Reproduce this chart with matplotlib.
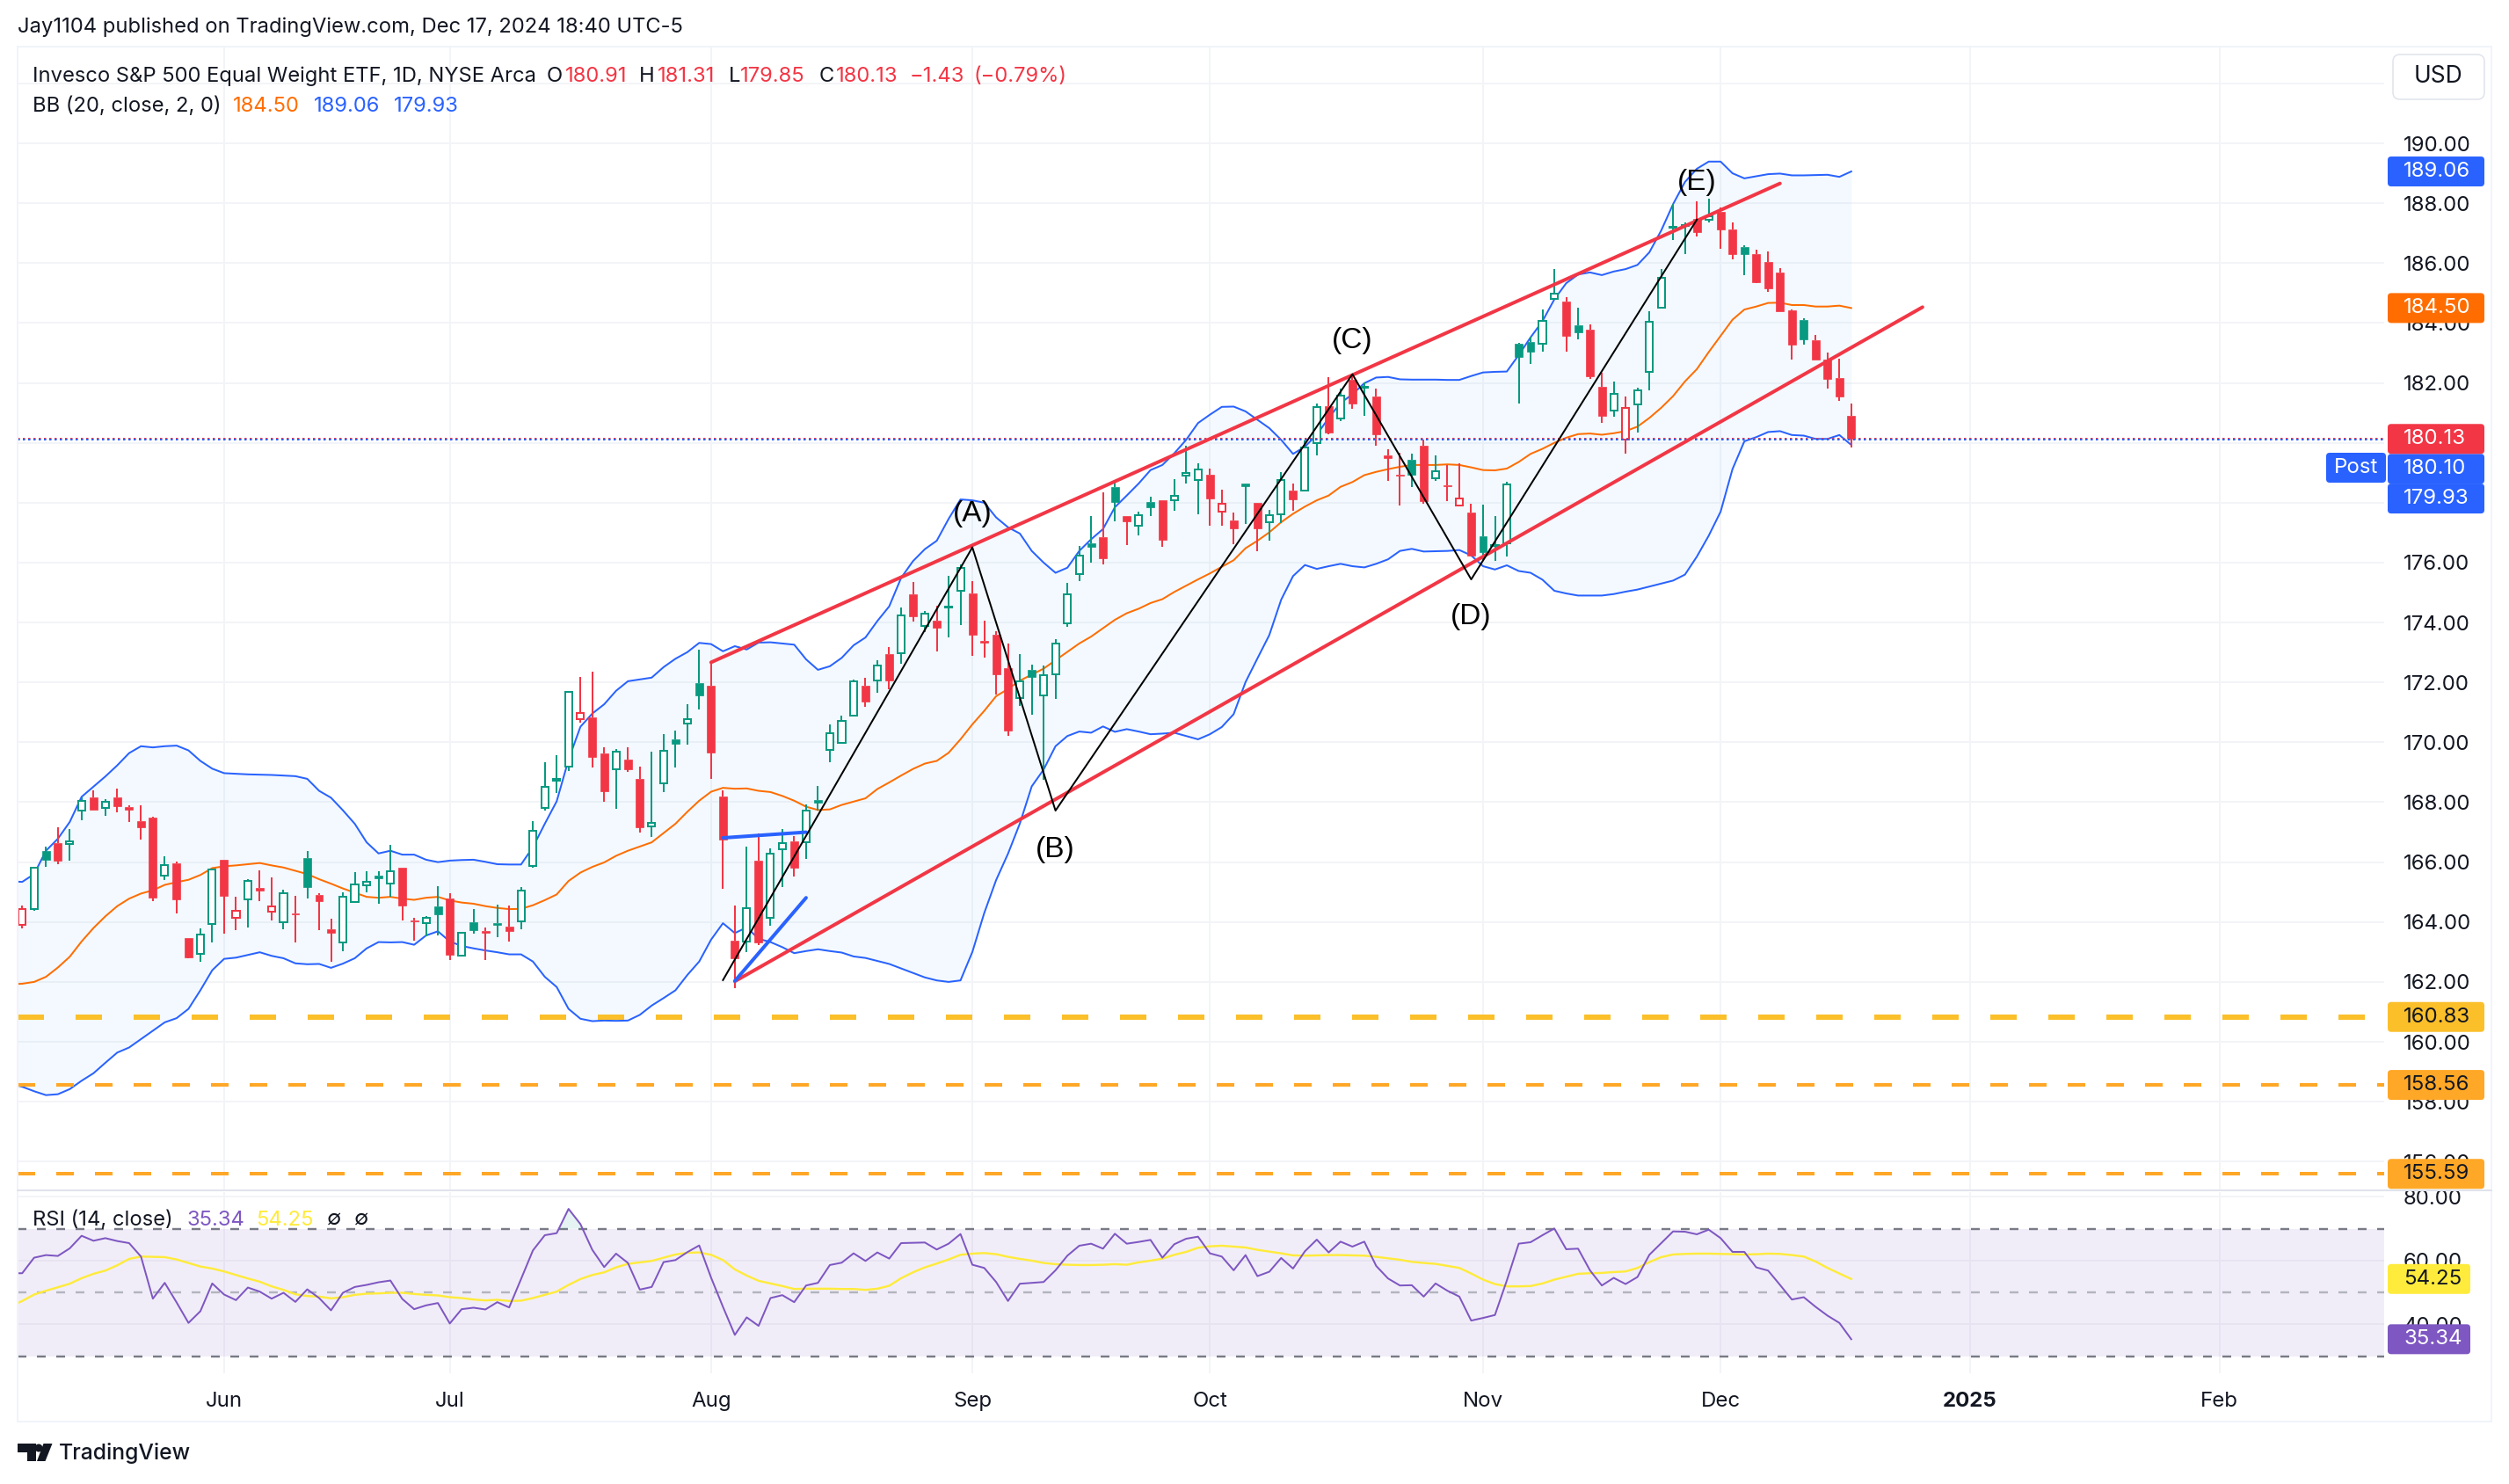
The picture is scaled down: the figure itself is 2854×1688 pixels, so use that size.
#!/usr/bin/env python3

import matplotlib
matplotlib.use('agg')
import matplotlib.pyplot as plt
import matplotlib.patches as mpatches
from matplotlib.transforms import IdentityTransform
import numpy as np

plt.rcParams['font.family'] = ['Inter', 'DejaVu Sans']
plt.rcParams['lines.scale_dashes'] = False

W, H = 2854, 1688
PX = 0.72  # one pixel in points at dpi 100

UP = '#089981'
DOWN = '#F23645'
BLUE = '#2962FF'
ORANGE = '#FF6D00'
PURPLE = '#7E57C2'
YELLOW = '#FFEB3B'
GRID = '#F3F4F7'
TEXT = '#131722'

# bars are numbered by trading day, 3 Jun 2024 is 0
first_bar = -17
opens = [163.91, 164.42, 166.38, 166.64, 166.60, 167.71, 168.16, 167.82, 168.17, 167.83,
  167.36, 167.49, 165.54, 165.96, 163.45, 162.93, 163.93, 166.09, 164.14, 164.75,
  165.15, 164.34, 163.99, 164.29, 166.15, 164.89, 163.77, 163.32, 164.66, 165.23,
  165.55, 165.27, 165.80, 164.05, 163.96, 164.51, 164.80, 162.89, 164.00, 163.69,
  163.97, 163.86, 164.03, 165.86, 167.80, 168.72, 169.19, 170.78, 170.84, 169.64,
  169.10, 169.41, 168.79, 167.18, 168.62, 170.11, 170.63, 171.99, 171.88, 168.20,
  163.38, 163.34, 166.06, 164.13, 166.42, 166.68, 166.66, 168.08, 169.74, 169.99,
  170.89, 171.89, 172.06, 172.96, 172.97, 174.93, 173.89, 174.05, 174.49, 175.05,
  174.96, 173.40, 173.58, 172.49, 171.47, 172.42, 171.56, 172.27, 173.96, 175.62,
  176.64, 176.85, 178.51, 177.54, 177.23, 178.02, 178.08, 178.09, 178.91, 178.76,
  178.93, 177.71, 177.42, 178.63, 177.99, 177.35, 177.60, 178.42, 178.42, 179.99,
  181.22, 180.81, 182.10, 181.84, 181.56, 179.57, 178.94, 179.42, 179.90, 178.82,
  178.57, 177.91, 177.68, 176.88, 176.56, 176.64, 183.31, 183.36, 183.30, 184.81,
  184.72, 183.92, 183.78, 181.88, 181.09, 180.11, 181.29, 182.38, 184.50, 187.18,
  187.24, 187.49, 187.46, 187.70, 187.13, 186.55, 186.31, 186.05, 185.69, 184.43,
  184.11, 183.43, 182.79, 182.17, 180.91]
highs = [164.56, 165.84, 166.53, 167.15, 167.09, 168.16, 168.41, 168.11, 168.46, 167.89,
  167.91, 167.51, 166.20, 166.01, 163.46, 163.78, 165.79, 166.09, 164.83, 165.43,
  165.73, 165.49, 165.09, 164.86, 166.38, 164.97, 164.10, 164.99, 165.66, 165.69,
  165.69, 166.57, 165.80, 164.14, 164.19, 165.19, 164.95, 163.68, 164.43, 163.83,
  164.59, 164.56, 165.18, 167.36, 169.35, 169.58, 171.71, 172.17, 172.37, 169.84,
  169.79, 169.83, 169.20, 169.68, 170.26, 170.38, 171.28, 173.09, 172.68, 168.41,
  164.56, 166.53, 166.97, 166.45, 167.11, 166.86, 167.92, 168.53, 170.59, 170.89,
  172.09, 172.14, 172.74, 173.17, 174.50, 175.35, 174.37, 174.57, 175.55, 175.94,
  175.38, 174.06, 173.72, 173.29, 172.94, 172.59, 172.57, 173.44, 175.31, 176.56,
  177.55, 178.36, 178.77, 177.54, 177.69, 178.19, 178.08, 178.78, 179.89, 179.31,
  179.14, 178.44, 177.66, 178.63, 177.99, 177.76, 179.02, 178.64, 180.08, 181.31,
  182.19, 181.82, 182.29, 182.01, 181.81, 179.78, 179.68, 179.63, 180.12, 179.57,
  179.26, 179.31, 177.96, 177.93, 177.54, 178.69, 183.35, 183.54, 184.46, 185.79,
  184.87, 184.52, 183.96, 182.33, 182.05, 181.55, 181.85, 184.40, 185.79, 187.98,
  187.37, 188.07, 188.14, 187.85, 187.37, 186.61, 186.46, 186.40, 185.84, 184.44,
  184.17, 183.61, 183.00, 182.82, 181.31]
lows = [163.78, 164.36, 165.84, 165.93, 166.05, 167.39, 167.75, 167.55, 167.66, 167.34,
  166.75, 164.70, 165.41, 164.30, 162.78, 162.68, 163.33, 163.62, 163.72, 163.82,
  164.70, 164.05, 163.77, 163.33, 164.79, 163.72, 162.66, 163.02, 164.64, 164.98,
  164.61, 164.84, 164.06, 163.39, 163.52, 163.55, 162.73, 162.86, 163.62, 162.73,
  163.48, 163.34, 163.77, 165.82, 167.73, 168.32, 169.05, 170.65, 169.16, 168.01,
  167.79, 169.00, 166.99, 166.84, 168.33, 169.16, 169.92, 171.09, 168.78, 165.10,
  161.80, 162.99, 163.24, 163.88, 165.17, 165.53, 166.10, 167.71, 169.33, 169.96,
  170.87, 171.17, 171.64, 171.78, 172.63, 174.03, 173.69, 173.04, 173.49, 173.90,
  172.88, 172.83, 171.59, 170.21, 171.20, 170.91, 168.75, 171.44, 173.87, 175.37,
  176.00, 175.93, 177.37, 176.60, 176.90, 177.54, 176.54, 177.74, 178.64, 177.60,
  177.23, 177.23, 176.62, 177.29, 176.39, 176.73, 177.31, 177.74, 178.39, 179.57,
  180.27, 180.72, 181.13, 180.89, 179.91, 178.73, 177.91, 178.53, 177.96, 178.74,
  178.04, 177.89, 176.22, 176.05, 176.05, 176.20, 181.31, 182.63, 183.03, 184.79,
  183.04, 183.45, 182.13, 180.66, 180.87, 179.63, 180.34, 181.75, 184.48, 186.77,
  186.30, 186.89, 187.36, 186.48, 186.12, 185.59, 185.32, 185.04, 184.39, 182.78,
  183.28, 182.78, 181.81, 181.40, 179.85]
closes = [164.44, 165.81, 166.07, 166.05, 166.70, 168.05, 167.75, 168.01, 167.88, 167.75,
  167.17, 164.82, 165.90, 164.77, 162.82, 163.59, 165.75, 164.88, 164.37, 165.37,
  165.06, 164.51, 164.96, 164.25, 165.17, 164.70, 163.64, 164.84, 165.26, 165.33,
  165.46, 165.70, 164.55, 164.01, 164.14, 164.26, 162.90, 163.64, 163.73, 163.64,
  163.91, 163.70, 165.05, 167.05, 168.52, 168.77, 171.69, 170.98, 169.52, 168.37,
  169.69, 169.10, 167.15, 167.30, 169.72, 169.96, 170.78, 171.57, 169.66, 166.75,
  162.79, 164.46, 163.33, 166.28, 166.63, 165.82, 167.72, 167.99, 170.31, 170.72,
  172.04, 171.35, 172.55, 172.06, 174.24, 174.22, 174.30, 173.84, 174.53, 175.83,
  173.58, 173.32, 172.26, 170.40, 172.03, 172.17, 172.23, 173.31, 174.95, 176.24,
  176.53, 176.15, 178.03, 177.39, 177.59, 177.86, 176.77, 178.24, 178.99, 179.12,
  178.15, 177.98, 177.13, 178.55, 177.13, 177.58, 178.77, 178.10, 179.85, 181.19,
  180.35, 181.59, 181.31, 181.87, 180.27, 179.48, 178.90, 178.92, 178.06, 179.05,
  178.54, 178.14, 176.24, 176.36, 176.60, 178.62, 182.87, 183.04, 184.07, 184.98,
  183.57, 183.69, 182.21, 180.90, 181.63, 181.16, 181.74, 184.04, 185.51, 187.22,
  187.28, 187.03, 187.57, 187.12, 186.30, 186.31, 185.35, 185.15, 184.40, 183.28,
  183.45, 182.78, 182.13, 181.54, 180.13]
bar_colors = ("RGGRGGRGRR" "RRGRRGGRRG" "RRGRGRRGGG" "GGRRGGRGGR"
  "GRGGGGGRRR" "GRRGGGGGRR" "RGRGGRGGGG" "GRGRGRGRGG"
  "RRRRGGGGGG" "GRGRGGRGGG" "RRRGRGGRGG" "RGRGRRRGRG"
  "RRRGGGGGGG" "RGRRGRGGGG" "GRGRRGRRRR" "GRRRR")

# the indicator series start one bar earlier, just left of the pane edge
bb_upper = [165.36, 165.34, 165.60, 166.38, 166.78, 167.34, 168.18, 168.52, 168.86, 169.23, 169.64,
  169.87, 169.83, 169.87, 169.89, 169.73, 169.38, 169.12, 168.97, 168.95, 168.93,
  168.92, 168.91, 168.89, 168.87, 168.78, 168.38, 168.15, 167.73, 167.28, 166.66,
  166.29, 166.38, 166.25, 166.25, 166.08, 166.00, 166.05, 166.07, 166.08, 166.01,
  165.93, 165.92, 165.92, 166.50, 167.28, 168.03, 169.42, 170.52, 170.96, 171.27,
  171.72, 172.04, 172.10, 172.16, 172.51, 172.79, 173.01, 173.32, 173.28, 173.04,
  173.21, 173.10, 173.33, 173.34, 173.30, 173.26, 172.77, 172.42, 172.54, 172.82,
  173.24, 173.50, 174.05, 174.54, 175.49, 176.05, 176.45, 176.73, 177.46, 178.11,
  178.08, 178.00, 177.51, 177.18, 176.97, 176.39, 176.00, 175.66, 175.83, 176.39,
  176.78, 177.12, 177.85, 178.24, 178.64, 179.09, 179.26, 179.65, 180.10, 180.66,
  180.94, 181.20, 181.21, 181.05, 180.77, 180.49, 180.10, 179.63, 179.87, 180.27,
  180.83, 181.33, 181.62, 181.99, 182.18, 182.20, 182.12, 182.11, 182.11, 182.11,
  182.10, 182.10, 182.23, 182.35, 182.37, 182.38, 182.93, 183.52, 184.06, 184.79,
  185.33, 185.62, 185.69, 185.60, 185.72, 185.80, 185.94, 186.36, 187.09, 187.97,
  188.71, 189.15, 189.39, 189.39, 189.00, 188.83, 188.90, 188.97, 188.99, 188.93,
  188.93, 188.94, 188.95, 188.88, 189.06]
bb_basis = [161.92, 161.94, 162.00, 162.17, 162.48, 162.84, 163.35, 163.80, 164.19, 164.53, 164.78,
  164.95, 165.06, 165.24, 165.33, 165.41, 165.57, 165.80, 165.86, 165.89, 165.93,
  165.97, 165.89, 165.82, 165.71, 165.60, 165.43, 165.28, 165.12, 164.98, 164.84,
  164.81, 164.84, 164.78, 164.74, 164.81, 164.84, 164.72, 164.65, 164.61, 164.53,
  164.47, 164.43, 164.44, 164.56, 164.73, 164.92, 165.37, 165.65, 165.84, 165.99,
  166.21, 166.38, 166.52, 166.66, 166.97, 167.28, 167.68, 168.05, 168.35, 168.48,
  168.45, 168.46, 168.38, 168.34, 168.21, 168.05, 167.85, 167.74, 167.76, 167.91,
  168.02, 168.13, 168.44, 168.66, 168.89, 169.11, 169.29, 169.38, 169.65, 170.10,
  170.60, 171.05, 171.54, 171.78, 172.06, 172.26, 172.46, 172.74, 173.02, 173.30,
  173.53, 173.81, 174.09, 174.31, 174.46, 174.65, 174.78, 175.02, 175.23, 175.44,
  175.64, 175.86, 176.08, 176.48, 176.73, 177.01, 177.35, 177.63, 177.87, 178.08,
  178.24, 178.53, 178.69, 178.92, 179.03, 179.12, 179.20, 179.26, 179.26, 179.26,
  179.28, 179.26, 179.18, 179.09, 179.08, 179.14, 179.36, 179.63, 179.80, 180.00,
  180.17, 180.29, 180.31, 180.27, 180.32, 180.39, 180.54, 180.83, 181.17, 181.56,
  182.05, 182.46, 183.03, 183.57, 184.11, 184.45, 184.55, 184.67, 184.68, 184.60,
  184.60, 184.55, 184.55, 184.58, 184.50]
bb_lower = [158.60, 158.50, 158.35, 158.22, 158.25, 158.42, 158.70, 158.95, 159.30, 159.64, 159.81,
  160.09, 160.37, 160.65, 160.79, 161.10, 161.72, 162.39, 162.77, 162.81, 162.90,
  162.99, 162.87, 162.79, 162.62, 162.59, 162.60, 162.47, 162.61, 162.79, 163.12,
  163.33, 163.32, 163.33, 163.24, 163.55, 163.69, 163.35, 163.20, 163.12, 163.05,
  162.99, 162.92, 162.92, 162.68, 162.17, 161.83, 161.10, 160.77, 160.69, 160.71,
  160.70, 160.71, 160.90, 161.21, 161.46, 161.72, 162.23, 162.68, 163.41, 163.96,
  163.63, 163.82, 163.44, 163.33, 163.16, 162.96, 163.03, 163.09, 163.03, 162.98,
  162.85, 162.80, 162.70, 162.60, 162.45, 162.30, 162.15, 162.05, 162.00, 162.05,
  163.00, 164.30, 165.40, 166.28, 167.29, 168.53, 169.09, 169.87, 170.21, 170.36,
  170.32, 170.53, 170.35, 170.44, 170.36, 170.27, 170.29, 170.32, 170.21, 170.10,
  170.27, 170.51, 170.94, 172.01, 172.80, 173.58, 174.76, 175.55, 175.92, 175.79,
  175.88, 175.96, 175.88, 175.84, 175.96, 176.11, 176.39, 176.46, 176.37, 176.38,
  176.39, 176.42, 176.24, 175.88, 175.77, 175.91, 175.72, 175.66, 175.43, 175.06,
  174.97, 174.90, 174.90, 174.90, 174.95, 175.03, 175.10, 175.20, 175.30, 175.40,
  175.60, 176.20, 176.90, 177.70, 179.12, 180.05, 180.19, 180.36, 180.39, 180.26,
  180.24, 180.13, 180.13, 180.26, 179.93]
rsi = [56.05, 56.05, 60.92, 61.74, 61.47, 63.85, 67.80, 66.24, 67.06, 66.15, 65.50,
  61.28, 48.07, 53.03, 46.88, 40.46, 44.13, 52.84, 49.36, 47.61, 51.56,
  50.28, 48.07, 49.91, 47.06, 51.00, 48.26, 44.40, 49.91, 51.74, 52.39,
  53.21, 53.76, 47.98, 44.77, 45.96, 46.70, 40.28, 44.77, 45.23, 44.68,
  46.97, 45.32, 54.22, 63.21, 67.98, 68.62, 76.24, 71.47, 63.39, 57.98,
  62.20, 59.27, 50.92, 51.74, 59.54, 60.18, 62.66, 64.77, 54.68, 45.50,
  36.70, 42.20, 39.54, 48.26, 49.17, 46.97, 52.20, 53.03, 58.62, 59.36,
  62.29, 59.91, 62.57, 60.64, 65.50, 65.60, 65.69, 63.49, 65.32, 68.35,
  58.71, 57.71, 53.30, 47.34, 52.75, 53.03, 53.30, 56.97, 61.56, 64.68,
  65.32, 63.76, 68.44, 65.32, 65.87, 66.51, 60.92, 65.14, 66.88, 67.52,
  62.29, 61.28, 56.97, 61.74, 55.14, 56.51, 60.83, 57.52, 62.94, 66.60,
  62.57, 65.96, 64.40, 65.96, 58.35, 54.40, 52.20, 52.29, 48.72, 52.84,
  50.55, 48.72, 41.19, 42.02, 42.94, 53.76, 65.32, 65.78, 67.98, 70.09,
  63.58, 63.76, 56.97, 52.20, 54.59, 52.66, 54.86, 61.83, 65.50, 69.17,
  69.08, 68.26, 69.72, 67.06, 62.75, 62.75, 57.89, 56.88, 52.39, 47.80,
  48.53, 45.50, 42.75, 40.46, 35.34]
rsi_ma = [45.60, 47.34, 49.36, 50.55, 51.65, 52.75, 54.49, 55.87, 56.88, 58.53, 60.55,
  61.28, 61.19, 61.10, 60.37, 59.27, 58.16, 57.52, 56.60, 55.50, 54.40,
  53.39, 51.93, 50.83, 49.45, 48.90, 48.72, 48.17, 48.53, 49.27, 49.63,
  49.72, 49.91, 49.91, 49.54, 49.27, 49.08, 48.53, 48.26, 47.80, 47.52,
  47.71, 47.34, 47.43, 48.26, 49.27, 50.28, 52.39, 54.22, 55.50, 56.33,
  57.89, 58.99, 59.45, 59.91, 60.92, 61.93, 62.48, 62.57, 61.83, 60.18,
  57.25, 55.32, 53.67, 52.84, 52.02, 51.10, 51.19, 51.19, 51.19, 51.10,
  51.10, 50.83, 51.19, 52.11, 54.49, 56.33, 57.89, 59.08, 60.37, 61.83,
  62.20, 62.38, 62.02, 61.19, 60.55, 60.00, 59.27, 58.90, 58.71, 58.62,
  58.62, 58.71, 58.90, 58.71, 59.45, 60.00, 60.64, 61.83, 62.75, 64.04,
  64.49, 64.68, 64.40, 64.13, 63.39, 62.84, 62.29, 61.65, 61.56, 61.65,
  61.74, 61.74, 61.65, 61.56, 61.19, 60.73, 60.27, 59.63, 59.27, 58.99,
  58.35, 57.71, 55.96, 54.04, 52.66, 51.93, 51.93, 52.02, 52.84, 54.04,
  54.95, 55.87, 56.05, 56.15, 56.42, 56.60, 57.71, 59.54, 61.10, 61.93,
  62.11, 62.20, 62.20, 62.11, 62.02, 61.93, 62.02, 62.20, 62.11, 61.74,
  61.28, 59.72, 57.71, 55.96, 54.25]

month_bars = [0, 19, 41, 63, 83, 106, 126, 147, 168]
month_labels = ['Jun', 'Jul', 'Aug', 'Sep', 'Oct', 'Nov', 'Dec', '2025', 'Feb']
price_ticks = list(range(156, 194, 2))
rsi_ticks = [40, 60, 80]

# drawings on the chart: (bar, price)
channel_top = [(41, 172.67), (131, 188.66)]
channel_bottom = [(43, 162.02), (143, 184.53)]
zigzag_bars = [42, 63, 70, 95, 105, 124]
zigzag_prices = [162.06, 176.51, 167.72, 182.29, 175.44, 187.45]
wave_labels = ['(A)', '(B)', '(C)', '(D)', '(E)']
wave_label_bars = [63, 70, 95, 105, 124]
wave_label_prices = [177.64, 166.42, 183.42, 174.18, 188.68]
blue_flat = [(42, 166.81), (49, 167.00)]
blue_rise = [(43, 162.03), (49, 164.81)]
support_big = 160.83
supports_small = [158.56, 155.59]
last_close = 180.13
post_close = 180.10


def put_text(x, y, s, **kw):
  kw.setdefault('color', TEXT)
  kw.setdefault('fontsize', 17.1)
  kw.setdefault('va', 'center')
  return fig.text(x / W, 1 - y / H, s, **kw)


def put_tag(ax, value, bg, fg, width=110, shift=0, label=None):
  # value tag on the price scale
  y = ax.transData.transform((0, value))[1] - shift
  box = mpatches.FancyBboxPatch((2716, y - 17), width, 34, boxstyle='round,pad=0,rounding_size=4',
                                transform=IdentityTransform(), facecolor=bg, edgecolor='none')
  fig.add_artist(box)
  fig.text(2734 / W, y / H, label or '%.2f' % value, color=fg, fontsize=17.3, va='center')


fig = plt.figure(figsize=(W / 100, H / 100), dpi=100, facecolor='white')
ax = fig.add_axes([20 / W, 1 - 1354 / H, 2692 / W, 1300 / H])
ax_rsi = fig.add_axes([20 / W, 1 - 1562 / H, 2692 / W, 206 / H])

bars = np.arange(first_bar, first_bar + len(closes))
line_bars = np.arange(first_bar - 1, first_bar + len(closes))
opens = np.array(opens)
highs = np.array(highs)
lows = np.array(lows)
closes = np.array(closes)
rsi = np.array(rsi)

# main pane
ax.set_xlim(-17.39, 181.87)
ax.set_ylim(155.04, 193.2)
ax.set_yticks(price_ticks)
ax.set_yticklabels(['' if p == 192 else '%.2f' % p for p in price_ticks])
ax.yaxis.tick_right()
ax.tick_params(axis='y', length=0, pad=15.8, labelsize=17.3, labelcolor=TEXT)
ax.set_xticks(month_bars)
ax.tick_params(axis='x', length=0, labelbottom=False)
ax.grid(True, color=GRID, linewidth=2 * PX, zorder=0)
ax.set_axisbelow(True)
for s in ax.spines.values():
  s.set_visible(False)

ax.fill_between(line_bars, bb_lower, bb_upper, color='#2196F3', alpha=0.05, linewidth=0, zorder=1)
ax.plot(line_bars, bb_upper, color=BLUE, linewidth=2 * PX, zorder=2)
ax.plot(line_bars, bb_lower, color=BLUE, linewidth=2 * PX, zorder=2)
ax.plot(line_bars, bb_basis, color=ORANGE, linewidth=2 * PX, zorder=2)

for color_key, color in (('G', UP), ('R', DOWN)):
  mask = np.array([c == color_key for c in bar_colors])
  top = np.maximum(opens, closes)
  bottom = np.minimum(opens, closes)
  ax.vlines(bars[mask], top[mask], highs[mask], color=color, linewidth=2 * PX, zorder=3)
  ax.vlines(bars[mask], lows[mask], bottom[mask], color=color, linewidth=2 * PX, zorder=3)
  filled = mask & (closes < opens)
  hollow = mask & (closes >= opens)
  ax.bar(bars[filled], (top - bottom)[filled], bottom=bottom[filled], width=0.66, color=color,
         edgecolor=color, linewidth=0.5, zorder=3)
  ax.bar(bars[hollow], (top - bottom)[hollow], bottom=bottom[hollow], width=0.6, facecolor='white',
         edgecolor=color, linewidth=2 * PX, zorder=3)

ax.axhline(support_big, color='#FBBF2A', linewidth=6 * PX, linestyle=(0, (30 * PX, 36 * PX)), zorder=4)
for level in supports_small:
  ax.axhline(level, color='#FFA726', linewidth=4 * PX, linestyle=(0, (20 * PX, 24 * PX)), zorder=4)
ax.axhline(last_close, color=DOWN, linewidth=2 * PX, linestyle=(0, (2.5 * PX, 3.5 * PX)), zorder=4)
ax.axhline(post_close, color=BLUE, linewidth=2 * PX, linestyle=(0, (2.5 * PX, 3.5 * PX)), zorder=4)

for line in (channel_top, channel_bottom):
  ax.plot(*zip(*line), color=DOWN, linewidth=4 * PX, solid_capstyle='round', zorder=5)
for line in (blue_flat, blue_rise):
  ax.plot(*zip(*line), color=BLUE, linewidth=4 * PX, solid_capstyle='round', zorder=5)
ax.plot(zigzag_bars, zigzag_prices, color='black', linewidth=2 * PX, zorder=6)
for name, b, p in zip(wave_labels, wave_label_bars, wave_label_prices):
  ax.text(b, p, name, family='Liberation Sans', fontsize=24, color='black', ha='center', va='center', zorder=7)

# rsi pane
ax_rsi.set_xlim(-17.39, 181.87)
ax_rsi.set_ylim(24.67, 81.5)
ax_rsi.set_yticks(rsi_ticks)
ax_rsi.set_yticklabels(['%.2f' % v for v in rsi_ticks])
ax_rsi.yaxis.tick_right()
ax_rsi.tick_params(axis='y', length=0, pad=15.8, labelsize=17.3, labelcolor=TEXT)
ax_rsi.set_xticks(month_bars)
ax_rsi.set_xticklabels(month_labels)
ax_rsi.tick_params(axis='x', length=0, pad=15, labelsize=17.3, labelcolor=TEXT)
ax_rsi.get_xticklabels()[month_labels.index('2025')].set_fontweight('bold')
ax_rsi.grid(True, color=GRID, linewidth=2 * PX, zorder=0)
ax_rsi.set_axisbelow(True)
for s in ax_rsi.spines.values():
  s.set_visible(False)

ax_rsi.axhspan(30, 70, color=PURPLE, alpha=0.1, linewidth=0, zorder=1)
ax_rsi.axhline(70, color='#787B86', linewidth=2.4 * PX, linestyle=(0, (10 * PX, 12 * PX)), zorder=2)
ax_rsi.axhline(50, color='#B2B5BE', linewidth=2.4 * PX, linestyle=(0, (10 * PX, 12 * PX)), zorder=2)
ax_rsi.axhline(30, color='#787B86', linewidth=2.4 * PX, linestyle=(0, (10 * PX, 12 * PX)), zorder=2)
ax_rsi.fill_between(line_bars, rsi, 70, where=rsi > 70, interpolate=True, color=UP, alpha=0.1, linewidth=0, zorder=2)
ax_rsi.plot(line_bars, rsi_ma, color=YELLOW, linewidth=2.4 * PX, zorder=3)
ax_rsi.plot(line_bars, rsi, color=PURPLE, linewidth=2 * PX, zorder=4)

# frame around the panes
fig.add_artist(mpatches.Rectangle((20, H - 1617), 2814, 1564, transform=IdentityTransform(),
                                  facecolor='none', edgecolor='#F0F3FA', linewidth=2 * PX))
fig.add_artist(plt.Line2D([20 / W, 2834 / W], [1 - 1354 / H, 1 - 1354 / H], color='#E0E3EB', linewidth=2 * PX))

# header and legends
put_text(20, 31, 'Jay1104 published on TradingView.com, Dec 17, 2024 18:40 UTC-5')
put_text(37, 87, 'Invesco S&P 500 Equal Weight ETF, 1D, NYSE Arca')
for x, s, c in [(622, 'O', TEXT), (643, '180.91', DOWN), (727, 'H', TEXT), (748, '181.31', DOWN),
                (829, 'L', TEXT), (842, '179.85', DOWN), (932, 'C', TEXT), (951, '180.13', DOWN),
                (1035, '\u22121.43', DOWN), (1107, '(\u22120.79%)', DOWN)]:
  put_text(x, 87, s, color=c)
put_text(37, 121, 'BB (20, close, 2, 0)')
put_text(265, 121, '184.50', color=ORANGE)
put_text(357, 121, '189.06', color=BLUE)
put_text(448, 121, '179.93', color=BLUE)
put_text(37, 1388, 'RSI (14, close)')
put_text(212, 1388, '35.34', color=PURPLE)
put_text(291, 1388, '54.25', color=YELLOW)
put_text(372, 1388, '\u2205')
put_text(403, 1388, '\u2205')

# USD button
fig.add_artist(mpatches.FancyBboxPatch((2722, H - 113), 104, 51, boxstyle='round,pad=0,rounding_size=8',
                                       transform=IdentityTransform(), facecolor='white',
                                       edgecolor='#E0E3EB', linewidth=1.5 * PX))
put_text(2774, 87, 'USD', ha='center', fontsize=19)

# tags on the price scale
put_tag(ax, 189.06, BLUE, 'white')
put_tag(ax, 184.50, ORANGE, 'white')
put_tag(ax, 160.83, '#FBBF2A', TEXT)
put_tag(ax, 158.56, '#FFA726', TEXT)
put_tag(ax, 155.59, '#FFA726', TEXT)
put_tag(ax, post_close, BLUE, 'white', shift=33)
put_tag(ax, 179.93, BLUE, 'white', shift=61)
put_tag(ax, last_close, DOWN, 'white')
put_tag(ax_rsi, 54.25, YELLOW, TEXT, width=94)
put_tag(ax_rsi, 35.34, PURPLE, 'white', width=94)
fig.add_artist(mpatches.FancyBboxPatch((2646, H - 549), 68, 34, boxstyle='round,pad=0,rounding_size=4',
                                       transform=IdentityTransform(), facecolor=BLUE, edgecolor='none'))
put_text(2680, 532, 'Post', ha='center', color='white', fontsize=17.3)

# logo
for pts in ([(20, 1642), (41, 1642), (41, 1662), (31, 1662), (31, 1652), (20, 1652)],
            [(49.5, 1642), (59.5, 1642), (51.5, 1662), (42, 1662)]):
  fig.add_artist(mpatches.Polygon([(x, H - y) for x, y in pts], transform=IdentityTransform(),
                                  facecolor=TEXT, edgecolor='none'))
fig.add_artist(mpatches.Circle((44, H - 1647), 4.5, transform=IdentityTransform(), facecolor=TEXT, edgecolor='none'))
put_text(67, 1653, 'TradingView', fontsize=17.8, fontweight='medium')

plt.savefig('out.png', dpi=100)
